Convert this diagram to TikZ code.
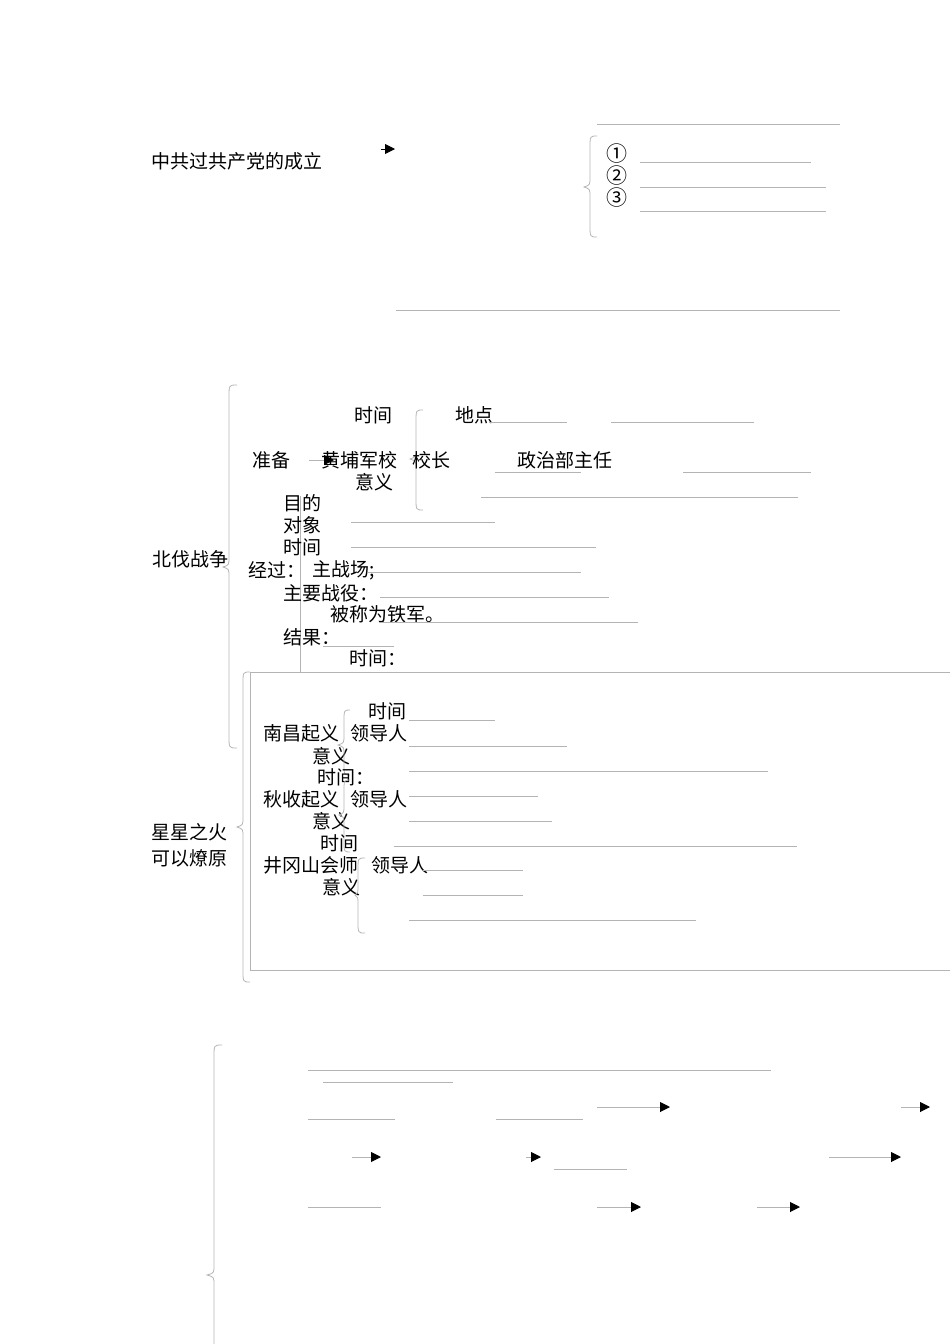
\documentclass[tikz,border=0pt]{standalone}
\usepackage{fontspec}
\setmainfont{Noto Sans CJK SC}
\usetikzlibrary{arrows.meta}
\definecolor{lg}{HTML}{B4B4B4}
\tikzset{
 blank/.style={draw=lg, line width=0.9pt},
 bracel/.style={draw=lg, line width=0.8pt},
 txt/.style={anchor=west, inner sep=0pt, font=\fontsize{19}{22}\selectfont},
 circ/.style={anchor=center, inner sep=0pt, font=\fontsize{21}{24}\selectfont},
 arr/.style={draw=lg, line width=0.9pt, -{Triangle[length=10pt,width=10pt,color=black]}},
}
% #1 x of spine, #2 top y, #3 tip y, #4 bottom y, #5 tip x, #6 end x
\newcommand{\mybrace}[6]{%
 \draw[bracel] (#6,#2) .. controls (#1,#2) .. (#1,#2+12) -- (#1,#3-10)
   .. controls (#1,#3-2) .. (#5,#3) .. controls (#1,#3+2) .. (#1,#3+10)
   -- (#1,#4-12) .. controls (#1,#4) .. (#6,#4);}
\begin{document}
\begin{tikzpicture}[x=1pt,y=-1pt]
\useasboundingbox (0,0) rectangle (950,1344);
% ---------- top ----------
\node[txt] (ccp) at (151,161) {中共过共产党的成立};
\coordinate (a0s) at (381,149); \coordinate (a0e) at (395,149);
\draw[draw=black, line width=0.9pt, -{Triangle[length=10pt,width=10pt]}] (a0s) -- (a0e);
\draw[blank] (597,124) -- (840,124);
\mybrace{590}{136}{187}{237}{584}{597}
\node[circ] (c1) at (617,154) {①};
\node[circ] (c2) at (617,176) {②};
\node[circ] (c3) at (617,198) {③};
\draw[blank] (640,162) -- (811,162);
\draw[blank] (640,187) -- (826,187);
\draw[blank] (640,211) -- (826,211);
\draw[blank] (396,310) -- (840,310);
% ---------- 北伐战争 ----------
\mybrace{229}{385}{567}{748}{223}{237}
\node[txt] (bf) at (152,559) {北伐战争};
\node[txt] (sj1) at (354,415) {时间};
\node[txt] (dd) at (455,415) {地点};
\draw[blank] (489,422) -- (567,422);
\draw[blank] (611,422) -- (754,422);
\mybrace{416}{410}{459}{510}{410}{423}
\node[txt] (zb) at (252,460) {准备};
\node[txt] (hp) at (321,460) {黄埔军校};
\node[txt] (xz) at (412,460) {校长};
\node[txt] (zz) at (517,460) {政治部主任};
\coordinate (a1s) at (309,460); \coordinate (a1e) at (334,460);
\draw[arr] (a1s) -- (a1e);
\draw[blank] (495,472) -- (581,472);
\draw[blank] (683,472) -- (811,472);
\node[txt] (yy1) at (355,482) {意义};
\draw[blank] (481,497) -- (798,497);
\draw[blank] (300,496) -- (300,672);
\node[txt] (md) at (283,503) {目的};
\node[txt] (dx) at (283,525) {对象};
\draw[blank] (351,522) -- (495,522);
\node[txt] (sj2) at (283,547) {时间};
\draw[blank] (351,547) -- (596,547);
\node[txt] (jg) at (248,570) {经过：};
\node[txt] (zzc) at (312,570) {主战场;};
\draw[blank] (368,572) -- (581,572);
\node[txt] (zyzy) at (283,593) {主要战役：};
\draw[blank] (380,597) -- (609,597);
\node[txt] (tj) at (330,614) {被称为铁军。};
\draw[blank] (380,622) -- (638,622);
\node[txt] (jgu) at (283,637) {结果：};
\draw[blank] (323,646) -- (394,646);
\node[txt] (sj3) at (349,658) {时间：};
% ---------- 星星之火 ----------
\draw[blank] (250,672) rectangle (960,970);
\mybrace{243}{672}{827}{982}{237}{250}
\node[txt] (xx1) at (151,832) {星星之火};
\node[txt] (xx2) at (151,858) {可以燎原};
\node[txt] (nsj) at (368,711) {时间};
\draw[blank] (409,720) -- (495,720);
\node[txt] (nc) at (263,733) {南昌起义};
\node[txt] (nld) at (350,733) {领导人};
\draw[blank] (409,746) -- (567,746);
\node[txt] (nyy) at (312,756) {意义};
\mybrace{344}{710}{745}{775}{338}{350}
\draw[blank] (409,771) -- (768,771);
\node[txt] (qsj) at (317,777) {时间：};
\node[txt] (qs) at (263,799) {秋收起义};
\node[txt] (qld) at (350,799) {领导人};
\draw[blank] (409,796) -- (538,796);
\node[txt] (qyy) at (312,821) {意义};
\draw[blank] (409,821) -- (552,821);
\mybrace{344}{780}{815}{852}{339}{350}
\node[txt] (jsj) at (320,843) {时间};
\draw[blank] (394,846) -- (797,846);
\node[txt] (jgs) at (263,865) {井冈山会师};
\node[txt] (jld) at (371,865) {领导人};
\draw[blank] (423,870) -- (523,870);
\node[txt] (jyy) at (322,887) {意义};
\draw[blank] (423,895) -- (523,895);
\mybrace{358}{858}{895}{933}{355}{365}
\draw[blank] (409,920) -- (696,920);
% ---------- bottom ----------
\mybrace{214}{1045}{1275}{1400}{207}{222}
\draw[blank] (308,1070) -- (771,1070);
\draw[blank] (323,1082) -- (453,1082);
\draw[blank] (308,1119) -- (395,1119);
\draw[blank] (496,1119) -- (583,1119);
\coordinate (b1s) at (597,1107); \coordinate (b1e) at (670,1107);
\draw[arr] (b1s) -- (b1e);
\coordinate (b2s) at (901,1107); \coordinate (b2e) at (930,1107);
\draw[arr] (b2s) -- (b2e);
\coordinate (b3s) at (352,1157); \coordinate (b3e) at (381,1157);
\draw[arr] (b3s) -- (b3e);
\coordinate (b4s) at (526,1157); \coordinate (b4e) at (541,1157);
\draw[arr] (b4s) -- (b4e);
\draw[blank] (554,1169) -- (627,1169);
\coordinate (b5s) at (829,1157); \coordinate (b5e) at (901,1157);
\draw[arr] (b5s) -- (b5e);
\draw[blank] (308,1207) -- (381,1207);
\coordinate (b6s) at (597,1207); \coordinate (b6e) at (641,1207);
\draw[arr] (b6s) -- (b6e);
\coordinate (b7s) at (757,1207); \coordinate (b7e) at (800,1207);
\draw[arr] (b7s) -- (b7e);
\end{tikzpicture}
\end{document}
